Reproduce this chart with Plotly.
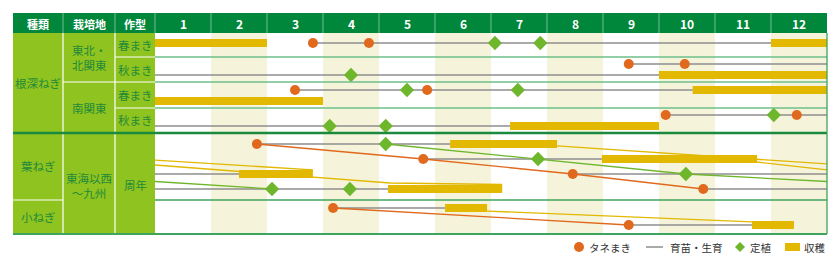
import plotly.graph_objects as go

# ---------------- data ----------------
MONTH_LABELS = [str(m) for m in range(1, 13)]
HEAD_LABELS = ["種類", "栽培地", "作型"]

# lanes (0..12): 東北春まき, 東北秋まき a/b, 南関東春まき a/b, 南関東秋まき a/b,
#                葉ねぎ 1..4, 小ねぎ 1..2
grow_lane  = [0,    1,    2,   3,   5,    6,   7,    8,    9,   9,    10,  10,   11,   12]
grow_start = [2.8,  8.46, 0.0, 2.5, 9.12, 0.0, 1.82, 4.79, 0.0, 7.46, 0.0, 9.79, 3.18, 8.46]
grow_end   = [11.0, 12.0, 9.0, 9.6, 12.0, 6.34, 5.27, 7.98, 1.5, 12.0, 4.16, 12.0, 5.18, 10.66]

harv_lane  = [0,   0,    2,   3,   4,   6,    7,    8,    9,   10,   11,   12]
harv_start = [0.0, 11.0, 9.0, 9.6, 0.0, 6.34, 5.27, 7.98, 1.5, 4.16, 5.18, 10.66]
harv_end   = [2.0, 12.0, 12.0, 12.0, 3.0, 9.0, 7.18, 10.75, 2.82, 6.2, 5.93, 11.41]

sow_lane  = [0,    0,    1,    1,    3,   3,    5,    5,     7,    8,    9,    10,   11,   12]
sow_month = [2.82, 3.82, 8.46, 9.46, 2.5, 4.86, 9.12, 11.46, 1.82, 4.79, 7.46, 9.79, 3.18, 8.46]

plant_lane  = [0,    0,    2,   3,   3,    5,     6,    6,    7,    8,    9,    10,   10]
plant_month = [6.07, 6.88, 3.5, 4.5, 6.48, 11.05, 3.12, 4.12, 4.12, 6.84, 9.48, 2.09, 3.48]

# diagonal connectors: (month, fractional lane) polylines
orange_links = [[(1.82, 7), (4.79, 8), (7.46, 9), (9.79, 10)],
                [(3.18, 11), (8.46, 12)]]
green_links = [[(4.12, 7), (6.84, 8), (9.48, 9), (12.0, 9.5)],
               [(0.0, 9.5), (2.09, 10)]]
yellow_links = [[(7.18, 7.13), (12.0, 8.33)],
                [(0.0, 8.07), (2.82, 8.73)],
                [(10.75, 8.2), (12.0, 8.73)],
                [(0.0, 8.4), (4.2, 9.6), (6.2, 9.7)],
                [(5.93, 11.18), (10.66, 11.82)]]

# ---------------- layout constants ----------------
W, H = 840, 269
X0 = 155.0        # pixel x of month 0
MW = 56.0         # pixel width of one month
LANE_Y = [43, 64, 75, 90, 101, 115, 126, 144, 159, 174, 189, 208, 225]

C_HEAD = "#00873C"
C_LEFT = "#8FC31F"
C_LTXT = "#1E8A3A"
C_SHADE = "#F5F3DA"
C_SEP = "#6CBF8A"
C_DARK = "#1B8A3E"
C_GRAY = "#8E8E8E"
C_ORANGE = "#E0691E"
C_GREEN = "#6EB62C"
C_YELLOW = "#E2B800"
FONT = "Noto Sans CJK JP"


def lane_y(f):
    i = int(f)
    if i >= len(LANE_Y) - 1:
        return LANE_Y[-1]
    return LANE_Y[i] + (f - i) * (LANE_Y[i + 1] - LANE_Y[i])


def px(x):
    return x / W


fig = go.Figure()
shapes = []
ann = []

# header
shapes.append(dict(type="rect", xref="paper", yref="y", x0=px(13), x1=px(827), y0=13, y1=33,
                   fillcolor=C_HEAD, line_width=0, layer="below"))
for xv in [63, 115, 155] + [X0 + MW * k for k in range(1, 12)]:
    shapes.append(dict(type="line", xref="paper", yref="y", x0=px(xv), x1=px(xv), y0=13, y1=33,
                       line=dict(color="rgba(255,255,255,0.45)", width=1)))
for lbl, cx in zip(HEAD_LABELS, [38, 89, 135]):
    ann.append(dict(text="<b>%s</b>" % lbl, x=px(cx), y=23.5, xref="paper", yref="y", showarrow=False,
                    xanchor="center", yanchor="middle",
                    font=dict(family=FONT, size=11, color="white")))
for k, lbl in enumerate(MONTH_LABELS):
    ann.append(dict(text="<b>%s</b>" % lbl, x=k + 0.5, y=23.5, xref="x", yref="y", showarrow=False,
                    xanchor="center", yanchor="middle",
                    font=dict(family=FONT, size=12, color="white")))

# left columns
shapes.append(dict(type="rect", xref="paper", yref="y", x0=px(13), x1=px(155), y0=33, y1=234,
                   fillcolor=C_LEFT, line_width=0, layer="below"))
# even month shading
for k in range(1, 12, 2):
    shapes.append(dict(type="rect", xref="x", yref="y", x0=k, x1=k + 1, y0=33, y1=234,
                       fillcolor=C_SHADE, line_width=0, layer="below"))
# white separators in left columns
for xv in [63, 115]:
    shapes.append(dict(type="line", xref="paper", yref="y", x0=px(xv), x1=px(xv), y0=33, y1=234,
                       line=dict(color="white", width=1.2)))
shapes.append(dict(type="line", xref="paper", yref="y", x0=px(63), x1=px(155), y0=82, y1=82,
                   line=dict(color="white", width=1.2)))
for yv in [57, 108]:
    shapes.append(dict(type="line", xref="paper", yref="y", x0=px(115), x1=px(155), y0=yv, y1=yv,
                       line=dict(color="white", width=1.2)))
shapes.append(dict(type="line", xref="paper", yref="y", x0=px(13), x1=px(63), y0=200, y1=200,
                   line=dict(color="white", width=1.2)))
# row separators in data region
for yv in [57, 82, 108]:
    shapes.append(dict(type="line", xref="x", yref="y", x0=0, x1=12, y0=yv, y1=yv,
                       line=dict(color=C_SEP, width=1.3)))
shapes.append(dict(type="line", xref="x", yref="y", x0=0, x1=12, y0=200, y1=200,
                   line=dict(color="#3FA55E", width=1.5)))
shapes.append(dict(type="line", xref="paper", yref="y", x0=px(13), x1=px(827), y0=133, y1=133,
                   line=dict(color=C_DARK, width=2.5)))
shapes.append(dict(type="line", xref="paper", yref="y", x0=px(13), x1=px(827), y0=234, y1=234,
                   line=dict(color="#3FA55E", width=2)))
shapes.append(dict(type="line", xref="x", yref="y", x0=12, x1=12, y0=33, y1=234,
                   line=dict(color="#3FA55E", width=1.3)))

# left column texts
left_txt = [("根深ねぎ", 38, 83), ("東北・<br>北関東", 89, 57), ("南関東", 89, 108),
            ("春まき", 135, 45), ("秋まき", 135, 70), ("春まき", 135, 95), ("秋まき", 135, 120),
            ("葉ねぎ", 38, 166), ("小ねぎ", 38, 217), ("東海以西<br>〜九州", 89, 185),
            ("周年", 135, 185)]
for t, cx, cy in left_txt:
    ann.append(dict(text=t, x=px(cx), y=cy, xref="paper", yref="y", showarrow=False,
                    xanchor="center", yanchor="middle",
                    font=dict(family=FONT, size=11.5, color=C_LTXT)))

# growth lines
gx, gy = [], []
for ln, s, e in zip(grow_lane, grow_start, grow_end):
    gx += [s, e, None]
    gy += [LANE_Y[ln], LANE_Y[ln], None]
fig.add_trace(go.Scatter(x=gx, y=gy, mode="lines", line=dict(color=C_GRAY, width=1.6),
                         hoverinfo="skip", showlegend=False))


def add_links(links, color):
    lx, ly = [], []
    for poly in links:
        for m, f in poly:
            lx.append(m)
            ly.append(lane_y(f))
        lx.append(None)
        ly.append(None)
    fig.add_trace(go.Scatter(x=lx, y=ly, mode="lines", line=dict(color=color, width=1.3),
                             hoverinfo="skip", showlegend=False))


add_links(yellow_links, C_YELLOW)
add_links(green_links, C_GREEN)
add_links(orange_links, C_ORANGE)

# harvest bars
fig.add_trace(go.Bar(orientation="h", y=[LANE_Y[l] for l in harv_lane],
                     base=harv_start, x=[e - s for s, e in zip(harv_start, harv_end)],
                     width=8, marker=dict(color=C_YELLOW, line_width=0),
                     hoverinfo="skip", showlegend=False))
# sowing & planting markers
fig.add_trace(go.Scatter(x=sow_month, y=[LANE_Y[l] for l in sow_lane], mode="markers",
                         marker=dict(symbol="circle", size=10, color=C_ORANGE),
                         hoverinfo="skip", showlegend=False))
fig.add_trace(go.Scatter(x=plant_month, y=[LANE_Y[l] for l in plant_lane], mode="markers",
                         marker=dict(symbol="diamond", size=11, color=C_GREEN),
                         hoverinfo="skip", showlegend=False))

# legend (drawn manually)
LY = 247
shapes.append(dict(type="circle", xref="paper", yref="y", x0=px(574), x1=px(584), y0=LY - 5, y1=LY + 5,
                   fillcolor=C_ORANGE, line_width=0))
shapes.append(dict(type="line", xref="paper", yref="y", x0=px(646), x1=px(663), y0=LY, y1=LY,
                   line=dict(color="#555555", width=1)))
shapes.append(dict(type="path", xref="paper", yref="y",
                   path="M %f %d L %f %d L %f %d L %f %d Z" % (px(735), LY, px(740), LY - 5, px(745), LY, px(740), LY + 5),
                   fillcolor=C_GREEN, line_width=0))
shapes.append(dict(type="rect", xref="paper", yref="y", x0=px(785), x1=px(800), y0=LY - 4, y1=LY + 4,
                   fillcolor=C_YELLOW, line_width=0))
for t, lx in [("タネまき", 587), ("育苗・生育", 668), ("定植", 748), ("収穫", 802)]:
    ann.append(dict(text=t, x=px(lx), y=LY, xref="paper", yref="y", xanchor="left", yanchor="middle",
                    showarrow=False, font=dict(family=FONT, size=10.5, color="#333333")))

fig.update_layout(
    width=W, height=H, margin=dict(l=0, r=0, t=0, b=0),
    paper_bgcolor="white", plot_bgcolor="white",
    xaxis=dict(range=[-X0 / MW, (W - X0) / MW], visible=False, fixedrange=True),
    yaxis=dict(range=[H, 0], visible=False, fixedrange=True),
    shapes=shapes, annotations=ann, showlegend=False, barmode="overlay",
)
fig.write_html("out.html")
